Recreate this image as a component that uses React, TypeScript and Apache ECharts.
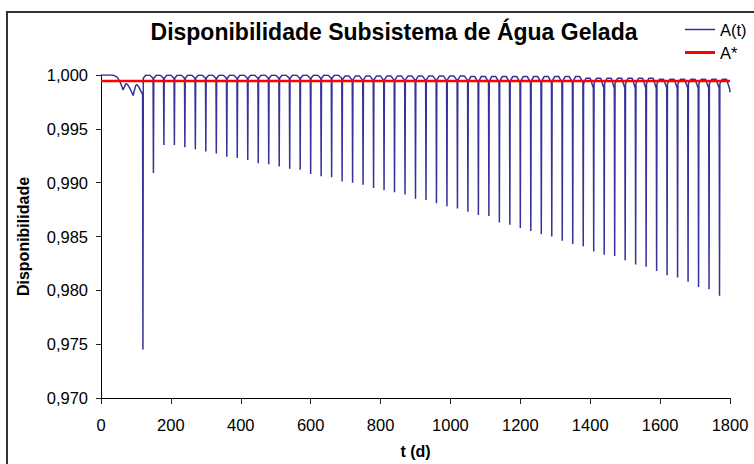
import React, { useEffect, useRef } from 'react';
import * as echarts from 'echarts';

// ---- data ----
const titleText = 'Disponibilidade Subsistema de Água Gelada';
const seriesNames = ['A(t)', 'A*'];
const aStar = 0.99944;

// early part (before the first maintenance)
const earlyDays = [0, 30, 38, 46, 54, 60, 63, 67, 71, 76, 82, 88, 92, 95, 99, 103, 108, 114, 119];
const earlyValues = [1.0, 1.0, 0.99995, 0.9998, 0.9994, 0.9989, 0.9986, 0.9989, 0.9992, 0.9991, 0.9988, 0.9984, 0.9981, 0.9985, 0.999, 0.9991, 0.9989, 0.9985, 0.9982];

// periodic maintenance dips
const spikeDays = [120, 150, 180, 210, 240, 270, 300, 330, 360, 390, 420, 450, 480, 510, 540, 570, 600, 630, 660, 690, 720, 750, 780, 810, 840, 870, 900, 930, 960, 990, 1020, 1050, 1080, 1110, 1140, 1170, 1200, 1230, 1260, 1290, 1320, 1350, 1380, 1410, 1440, 1470, 1500, 1530, 1560, 1590, 1620, 1650, 1680, 1710, 1740, 1770];
const spikeMin = [
  0.9745, 0.9909, 0.9935, 0.9935, 0.9933, 0.9931, 0.9929, 0.9927, 0.9924, 0.9923,
  0.9921, 0.9918, 0.9917, 0.9915, 0.9913, 0.9912, 0.9908, 0.9906, 0.9905, 0.9901,
  0.99, 0.9898, 0.9895, 0.9893, 0.9891, 0.9889, 0.9885, 0.9884, 0.9881, 0.9878,
  0.9876, 0.9873, 0.987, 0.9869, 0.9863, 0.9861, 0.9858, 0.9855, 0.9852, 0.985,
  0.9846, 0.9843, 0.9841, 0.9836, 0.9833, 0.9832, 0.9828, 0.9824, 0.9822, 0.9818,
  0.9814, 0.9812, 0.9808, 0.9803, 0.9801, 0.9795,
];
// day offsets inside a period: after dip, rising, top, before next dip
const archOffsets = [1, 8, 20, 29];
const archStart = [
  0.9997, 0.9997, 0.9997, 0.9997, 0.9997, 0.9997, 0.9997, 0.9997, 0.9997, 0.9997,
  0.9997, 0.9997, 0.9997, 0.9997, 0.9997, 0.9997, 0.9997, 0.9997, 0.9997,
  0.99955, 0.99955, 0.99955, 0.99955, 0.99955, 0.99955, 0.99955, 0.99955, 0.99955, 0.99955, 0.99955, 0.99955,
  0.9994, 0.9994, 0.9994, 0.9994, 0.9994, 0.9994, 0.9994, 0.9994, 0.9994, 0.9994, 0.9994,
  0.9992, 0.9992, 0.9992, 0.9992, 0.9992, 0.9992, 0.9992, 0.9992, 0.9992, 0.9992, 0.9992, 0.9992, 0.9992, 0.9992,
];
const archTop = [
  0.99998, 0.99998, 0.99998, 0.99998, 0.99998, 0.99998, 0.99998, 0.99998, 0.99998, 0.99998,
  0.99998, 0.99998, 0.99998, 0.99998, 0.99998, 0.99998, 0.99998, 0.99998, 0.99998,
  0.9999, 0.9999, 0.9999, 0.9999, 0.9999, 0.9999, 0.9999, 0.9999, 0.9999, 0.9999, 0.9999, 0.9999,
  0.99985, 0.99985, 0.99985, 0.99985, 0.99985, 0.99985, 0.99985, 0.99985, 0.99985, 0.99985, 0.99985,
  0.9997, 0.9997, 0.9997, 0.9997, 0.9997, 0.9997, 0.9997,
  0.9996, 0.9996, 0.9996, 0.9996, 0.9996, 0.9996, 0.9996,
];
const archEnd = [
  0.9997, 0.9997, 0.9997, 0.9997, 0.9997, 0.9997, 0.9997, 0.9997, 0.9997, 0.9997,
  0.9997, 0.9997, 0.9997, 0.9997, 0.9997, 0.9997, 0.9997, 0.9997, 0.9997,
  0.9995, 0.9995, 0.9995, 0.9995, 0.9995, 0.9995, 0.9995, 0.9995, 0.9995, 0.9995, 0.9995, 0.9995,
  0.9993, 0.9993, 0.9993, 0.9993, 0.9993, 0.9993, 0.9993, 0.9993, 0.9993, 0.9993, 0.9993,
  0.9988, 0.9988, 0.9988, 0.9988, 0.9988, 0.9988, 0.9988, 0.9988, 0.9988, 0.9988, 0.9988, 0.9988, 0.9988, 0.9987,
];
const finalDay = 1800;
const finalValue = 0.9984;

const xMin = 0;
const xMax = 1800;
const xInterval = 200;
const yMin = 0.97;
const yMax = 1.0;
const yInterval = 0.005;

function buildA(): [number, number][] {
  const out: [number, number][] = earlyDays.map((d, i) => [d, earlyValues[i]]);
  spikeDays.forEach((t, k) => {
    out.push([t, spikeMin[k]]);
    out.push([t + archOffsets[0], archStart[k]]);
    out.push([t + archOffsets[1], archTop[k]]);
    out.push([t + archOffsets[2], archTop[k]]);
    out.push([t + archOffsets[3], archEnd[k]]);
  });
  out.push([finalDay, finalValue]);
  return out;
}

export default function App() {
  const ref = useRef<HTMLDivElement>(null);
  useEffect(() => {
    if (!ref.current) return;
    const chart = echarts.init(ref.current, undefined, { renderer: 'svg' });
    const font = 'Liberation Sans, Arial, sans-serif';
    chart.setOption({
      animation: false,
      backgroundColor: '#ffffff',
      textStyle: { fontFamily: font },
      title: {
        text: titleText,
        left: 389,
        top: 15,
        textAlign: 'center',
        textStyle: { fontFamily: font, fontSize: 23, fontWeight: 'bold', color: '#000' },
      },
      legend: [
        {
          data: [{ name: seriesNames[0], icon: 'rect' }],
          left: 685,
          top: 21,
          itemWidth: 30,
          itemHeight: 1.5,
          itemGap: 0,
          textStyle: { fontFamily: font, fontSize: 16.5, color: '#000' },
          padding: 0,
        },
        {
          data: [{ name: seriesNames[1], icon: 'rect' }],
          left: 685,
          top: 44,
          itemWidth: 30,
          itemHeight: 3,
          itemGap: 0,
          textStyle: { fontFamily: font, fontSize: 16.5, color: '#000' },
          padding: 0,
        },
      ],
      grid: { left: 101, right: 24, top: 75, bottom: 65, containLabel: false },
      xAxis: {
        type: 'value',
        min: xMin,
        max: xMax,
        interval: xInterval,
        name: 't (d)',
        nameLocation: 'middle',
        nameGap: 45,
        nameTextStyle: { fontFamily: font, fontSize: 16, fontWeight: 'bold', color: '#000' },
        axisLine: { show: true, lineStyle: { color: '#000', width: 1 } },
        axisTick: { show: true, length: 6, inside: false, lineStyle: { color: '#222' } },
        axisLabel: {
          fontFamily: font,
          fontSize: 16.5,
          color: '#000',
          margin: 18,
          formatter: (v: number) => String(v),
        },
        splitLine: { show: false },
      },
      yAxis: {
        type: 'value',
        min: yMin,
        max: yMax,
        interval: yInterval,
        name: 'Disponibilidade',
        nameLocation: 'middle',
        nameGap: 70,
        nameTextStyle: { fontFamily: font, fontSize: 16, fontWeight: 'bold', color: '#000' },
        axisLine: { show: true, lineStyle: { color: '#000', width: 1 } },
        axisTick: { show: true, length: 5, inside: false, lineStyle: { color: '#222' } },
        axisLabel: {
          fontFamily: font,
          fontSize: 16.5,
          color: '#000',
          margin: 13,
          formatter: (v: number) => v.toFixed(3).replace('.', ','),
        },
        splitLine: { show: false },
      },
      graphic: [
        {
          type: 'rect',
          shape: { x: 7, y: 12, width: 800, height: 500 },
          style: { fill: 'none', stroke: '#333', lineWidth: 2 },
          silent: true,
        },
      ],
      series: [
        {
          name: seriesNames[0],
          type: 'line',
          data: buildA(),
          showSymbol: false,
          symbol: 'none',
          lineStyle: { color: '#33339a', width: 1.5 },
          itemStyle: { color: '#33339a' },
          z: 2,
        },
        {
          name: seriesNames[1],
          type: 'line',
          data: [[xMin, aStar], [xMax, aStar]],
          showSymbol: false,
          symbol: 'none',
          lineStyle: { color: '#ff0000', width: 2.5 },
          itemStyle: { color: '#ff0000' },
          z: 3,
        },
      ],
    });
    return () => chart.dispose();
  }, []);
  return (
    <div
      ref={ref}
      style={{ position: 'fixed', left: 0, top: 0, width: 754, height: 464, background: '#fff' }}
    />
  );
}
